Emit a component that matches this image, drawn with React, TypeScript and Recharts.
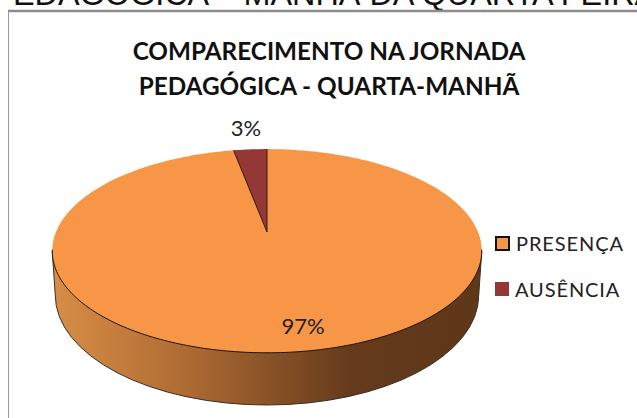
import { Cell, Legend, Pie, PieChart } from "recharts"

const categories = ["PRESENÇA", "AUSÊNCIA"]
const values = [97, 3]
const colors = ["#F79646", "#953735"]
const titleLines = ["COMPARECIMENTO NA JORNADA", "PEDAGÓGICA - QUARTA-MANHÃ"]
const pageHeading = "EDAGÓGICA – MANHÃ DA QUARTA FEIRA"

const data = categories.map((name, i) => ({ name, value: values[i] }))

// perspective of the tilted disc, the pie itself stays a normal circle of angles
const TILT = 0.466
const PERSP = 0.186
const RADIUS = 211
const labelPos = [
  { x: 303, y: 325 },
  { x: 246, y: 127 },
]

function project(cx: number, cy: number, r: number, deg: number) {
  const a = (deg * Math.PI) / 180
  const u = Math.cos(a)
  const v = Math.sin(a)
  const w = 1 + (PERSP * r * v) / RADIUS
  return [cx + (r * u) / w, cy - (r * TILT * v) / w]
}

function arcPoints(cx: number, cy: number, r: number, from: number, to: number) {
  const steps = Math.max(2, Math.ceil(Math.abs(to - from)))
  const pts: string[] = []
  for (let i = 0; i <= steps; i++) {
    const [x, y] = project(cx, cy, r, from + ((to - from) * i) / steps)
    pts.push(`${x.toFixed(2)} ${y.toFixed(2)}`)
  }
  return pts
}

function DiscSlice(props: any) {
  const { cx, cy, outerRadius, startAngle, endAngle, fill, index } = props
  const arc = arcPoints(cx, cy, outerRadius, startAngle, endAngle)
  const face = `M${cx} ${cy} L${arc.join(" L")} Z`

  if (index === 1) {
    return (
      <g>
        <path d={face} fill={fill} />
        <path d={`M${arc[0]} L${cx} ${cy} L${arc[arc.length - 1]}`} fill="none" stroke="#2a1a14" strokeWidth={1} />
      </g>
    )
  }

  // wall under the disc
  const rx = outerRadius / Math.sqrt(1 - PERSP * PERSP)
  const midY = cy + 19
  const wallY = midY + 44
  const wallRx = rx - 3
  const wall = `M${cx - rx} ${midY} L${cx - wallRx} ${wallY} A${wallRx} 110 0 0 0 ${cx + wallRx} ${wallY} L${cx + rx} ${midY} Z`
  const rim = arcPoints(cx, cy, outerRadius, 190, 350)

  return (
    <g>
      <defs>
        <linearGradient id="wallShade" x1="0" y1="0" x2="1" y2="0">
          <stop offset="0" stopColor="#d88e45" />
          <stop offset="0.3" stopColor="#b06c34" />
          <stop offset="0.7" stopColor="#643a1b" />
          <stop offset="1" stopColor="#5f3719" />
        </linearGradient>
      </defs>
      <path d={wall} fill="url(#wallShade)" stroke="#3a3028" strokeWidth={1} />
      <path d={face} fill={fill} />
      <path d={`M${rim.join(" L")}`} fill="none" stroke="#1c140e" strokeWidth={1} />
    </g>
  )
}

function SliceLabel(props: any) {
  const { index, percent } = props
  const pos = labelPos[index]
  return (
    <text x={pos.x} y={pos.y} textAnchor="middle" dominantBaseline="central" fontFamily="Lato" fontSize={22} fill="#222">
      {`${Math.round(percent * 100)}%`}
    </text>
  )
}

function LegendList({ payload }: any) {
  return (
    <div style={{ fontFamily: "Lato", fontSize: 20, letterSpacing: 0.9, color: "#222" }}>
      {(payload || []).map((item: any, i: number) => (
        <div key={item.value} style={{ display: "flex", alignItems: "center", height: 46 }}>
          <span
            style={{
              width: i === 0 ? 11 : 14,
              height: i === 0 ? 11 : 14,
              background: colors[i],
              border: i === 0 ? "2px solid #111" : "none",
              marginRight: 6,
              boxSizing: "content-box",
            }}
          />
          {item.value}
        </div>
      ))}
    </div>
  )
}

export default function App() {
  return (
    <div style={{ position: "absolute", left: 0, top: 0, width: 637, height: 418, background: "#fff" }}>
      <PieChart width={637} height={418} margin={{ top: 0, right: 0, bottom: 0, left: 0 }}>
        <text x={13} y={5} fontFamily="Liberation Sans" fontSize={32.4} fill="#111">
          {pageHeading}
        </text>
        <line x1={8} y1={11} x2={637} y2={11} stroke="#8c8c8c" strokeWidth={2.5} />
        <line x1={8.5} y1={11} x2={8.5} y2={418} stroke="#9a9a9a" strokeWidth={1} />
        {titleLines.map((line, i) => (
          <text key={line} x={329} y={50 + i * 35} textAnchor="middle" dominantBaseline="central" fontFamily="Lato" fontWeight={700} fontSize={24.3} fill="#111">
            {line}
          </text>
        ))}
        <Pie
          data={data}
          dataKey="value"
          nameKey="name"
          cx={267}
          cy={232}
          outerRadius={RADIUS}
          startAngle={90}
          endAngle={-270}
          stroke="none"
          shape={DiscSlice}
          label={SliceLabel}
          labelLine={false}
          isAnimationActive={false}
        >
          {data.map((d, i) => (
            <Cell key={d.name} fill={colors[i]} />
          ))}
        </Pie>
        <Legend
          layout="vertical"
          content={<LegendList />}
          wrapperStyle={{ left: 495, top: 220, width: 140, bottom: "auto" }}
          itemSorter={null}
        />
      </PieChart>
    </div>
  )
}
